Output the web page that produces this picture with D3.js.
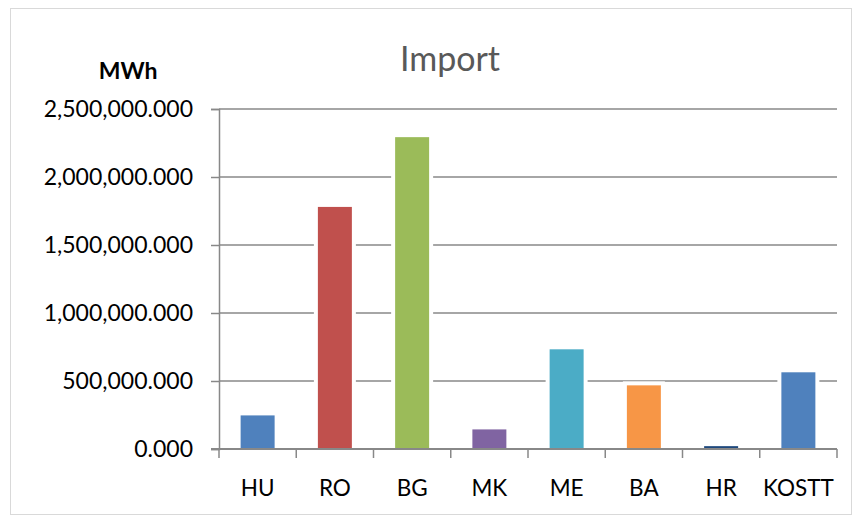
<!DOCTYPE html>
<html>
<head>
<meta charset="utf-8">
<script src="https://cdn.jsdelivr.net/npm/d3@7/dist/d3.min.js"></script>
<style>
  html, body { margin: 0; padding: 0; background: #fff; }
  svg { display: block; }
  text { font-family: Lato, "Open Sans", sans-serif; }
</style>
</head>
<body>
<svg id="chart" width="856" height="519"></svg>
<script>
// Import volumes per neighbouring system (MWh)
const categories = ["HU", "RO", "BG", "MK", "ME", "BA", "HR", "KOSTT"];
const importValues = [247000, 1780000, 2293000, 144000, 733000, 468000, 21000, 564000];
const barColors = ["#4F81BD", "#C0504D", "#9BBB59", "#8064A2", "#4BACC6", "#F79646", "#1F497D", "#4F81BD"];
const yTicks = [0, 500000, 1000000, 1500000, 2000000, 2500000];

const svg = d3.select("#chart");
const margin = { left: 219, right: 19, top: 109, bottom: 70 };
const W = 856, H = 519;
const x0 = margin.left, x1 = W - margin.right;
const y0 = H - margin.bottom, y1 = margin.top;

// outer chart frame
svg.append("rect")
  .attr("x", 10.5).attr("y", 8.5)
  .attr("width", 841).attr("height", 506)
  .attr("fill", "#fff").attr("stroke", "#D9D9D9").attr("stroke-width", 1);

const x = d3.scaleBand().domain(categories).range([x0, x1]).paddingInner(0.56).paddingOuter(0.28);
const y = d3.scaleLinear().domain([0, 2500000]).range([y0, y1]);

const fmt = d3.format(",.3f");
const gridColor = "#888888";

// horizontal gridlines
svg.append("g")
  .selectAll("line")
  .data(yTicks.filter(d => d > 0))
  .join("line")
  .attr("x1", x0).attr("x2", x1)
  .attr("y1", d => y(d)).attr("y2", d => y(d))
  .attr("stroke", gridColor).attr("stroke-width", 1.5);

// bars with a white outline
svg.append("g")
  .selectAll("rect")
  .data(categories)
  .join("rect")
  .attr("x", d => x(d))
  .attr("width", x.bandwidth())
  .attr("y", (d, i) => y(importValues[i]))
  .attr("height", (d, i) => y(0) - y(importValues[i]))
  .attr("fill", "#fff")
  .attr("stroke", "#fff").attr("stroke-width", 8);

svg.append("g")
  .selectAll("rect")
  .data(categories)
  .join("rect")
  .attr("x", d => x(d))
  .attr("width", x.bandwidth())
  .attr("y", (d, i) => y(importValues[i]))
  .attr("height", (d, i) => y(0) - y(importValues[i]))
  .attr("fill", (d, i) => barColors[i]);

// y axis
const yAxis = d3.axisLeft(y).tickValues(yTicks).tickFormat(fmt).tickSize(8).tickPadding(18);
const gy = svg.append("g").attr("transform", `translate(${x0},0)`).call(yAxis);
gy.select(".domain").attr("stroke", gridColor).attr("stroke-width", 1.5);
gy.selectAll(".tick line").attr("stroke", gridColor).attr("stroke-width", 1.5);
gy.selectAll(".tick text")
  .attr("fill", "#000").attr("font-size", 23)
  .style("font-family", "Lato, 'Open Sans', sans-serif");

// x axis baseline and category ticks at band boundaries
svg.append("line")
  .attr("x1", x0 - 8).attr("x2", x1)
  .attr("y1", y0).attr("y2", y0)
  .attr("stroke", gridColor).attr("stroke-width", 2);

const boundaries = d3.range(categories.length + 1).map(i => x0 + i * (x1 - x0) / categories.length);
svg.append("g")
  .selectAll("line")
  .data(boundaries)
  .join("line")
  .attr("x1", d => d).attr("x2", d => d)
  .attr("y1", y0).attr("y2", y0 + 9)
  .attr("stroke", gridColor).attr("stroke-width", 1.5);

svg.append("g")
  .selectAll("text")
  .data(categories)
  .join("text")
  .attr("x", d => x(d) + x.bandwidth() / 2)
  .attr("y", y0 + 47)
  .attr("text-anchor", "middle")
  .attr("font-size", 22.5)
  .attr("fill", "#000")
  .text(d => d);

// title and unit label
svg.append("text")
  .attr("x", 450).attr("y", 71)
  .attr("text-anchor", "middle")
  .attr("font-size", 34)
  .attr("fill", "#595959")
  .text("Import");

svg.append("text")
  .attr("x", 128).attr("y", 79)
  .attr("text-anchor", "middle")
  .attr("font-size", 23)
  .attr("font-weight", "bold")
  .attr("fill", "#000")
  .text("MWh");
</script>
</body>
</html>
